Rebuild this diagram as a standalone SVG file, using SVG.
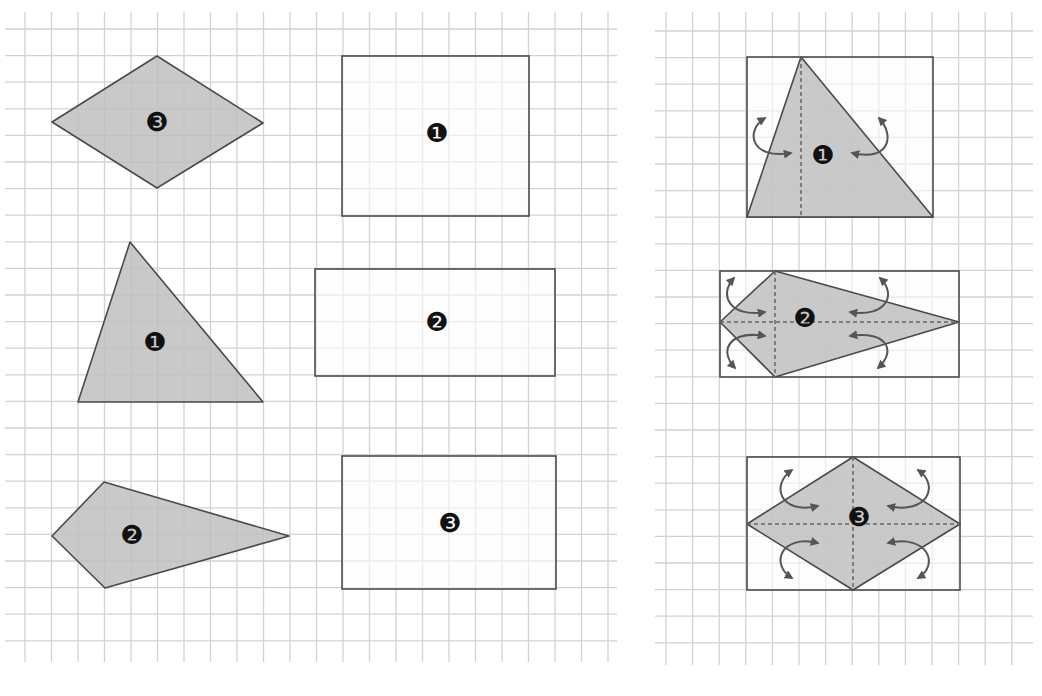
<svg xmlns="http://www.w3.org/2000/svg" width="1042" height="696" viewBox="0 0 1042 696">
<defs>
<style>
.grid line{stroke:#d2d2d2;stroke-width:1.3}
.shape{fill:#c0c0c0;fill-opacity:0.85;stroke:#4a4a4a;stroke-width:1.6;stroke-linejoin:round}
.frame{fill:#fbfbfb;fill-opacity:0.6;stroke:#4a4a4a;stroke-width:1.6}
.fold{stroke:#666;stroke-width:1.5;stroke-dasharray:4 3;fill:none}
.arr{fill:none;stroke:#555;stroke-width:2;marker-start:url(#ah);marker-end:url(#ah)}
.lbl{font-family:"DejaVu Sans",sans-serif;font-size:26px;fill:#111;text-anchor:middle;dominant-baseline:central}
</style>
<marker id="ah" viewBox="0 0 10 10" refX="8" refY="5" markerWidth="4.5" markerHeight="4.5" orient="auto-start-reverse" markerUnits="strokeWidth">
<path d="M0,0 L10,5 L0,10 z" fill="#555"/>
</marker>
</defs>
<rect width="1042" height="696" fill="#ffffff"/>
<g id="grid-left" class="grid">
<line x1="25" y1="12" x2="25" y2="662"/><line x1="51.5" y1="12" x2="51.5" y2="662"/><line x1="78" y1="12" x2="78" y2="662"/><line x1="104.5" y1="12" x2="104.5" y2="662"/><line x1="131" y1="12" x2="131" y2="662"/><line x1="157.5" y1="12" x2="157.5" y2="662"/><line x1="184" y1="12" x2="184" y2="662"/><line x1="210.5" y1="12" x2="210.5" y2="662"/><line x1="237" y1="12" x2="237" y2="662"/><line x1="263.5" y1="12" x2="263.5" y2="662"/><line x1="290" y1="12" x2="290" y2="662"/><line x1="316.5" y1="12" x2="316.5" y2="662"/><line x1="343" y1="12" x2="343" y2="662"/><line x1="369.5" y1="12" x2="369.5" y2="662"/><line x1="396" y1="12" x2="396" y2="662"/><line x1="422.5" y1="12" x2="422.5" y2="662"/><line x1="449" y1="12" x2="449" y2="662"/><line x1="475.5" y1="12" x2="475.5" y2="662"/><line x1="502" y1="12" x2="502" y2="662"/><line x1="528.5" y1="12" x2="528.5" y2="662"/><line x1="555" y1="12" x2="555" y2="662"/><line x1="581.5" y1="12" x2="581.5" y2="662"/><line x1="608" y1="12" x2="608" y2="662"/>
<line x1="5" y1="29" x2="617" y2="29"/><line x1="5" y1="55.6" x2="617" y2="55.6"/><line x1="5" y1="82.2" x2="617" y2="82.2"/><line x1="5" y1="108.8" x2="617" y2="108.8"/><line x1="5" y1="135.4" x2="617" y2="135.4"/><line x1="5" y1="162" x2="617" y2="162"/><line x1="5" y1="188.6" x2="617" y2="188.6"/><line x1="5" y1="215.2" x2="617" y2="215.2"/><line x1="5" y1="241.8" x2="617" y2="241.8"/><line x1="5" y1="268.4" x2="617" y2="268.4"/><line x1="5" y1="295" x2="617" y2="295"/><line x1="5" y1="321.6" x2="617" y2="321.6"/><line x1="5" y1="348.2" x2="617" y2="348.2"/><line x1="5" y1="374.8" x2="617" y2="374.8"/><line x1="5" y1="401.4" x2="617" y2="401.4"/><line x1="5" y1="428" x2="617" y2="428"/><line x1="5" y1="454.6" x2="617" y2="454.6"/><line x1="5" y1="481.2" x2="617" y2="481.2"/><line x1="5" y1="507.8" x2="617" y2="507.8"/><line x1="5" y1="534.4" x2="617" y2="534.4"/><line x1="5" y1="561" x2="617" y2="561"/><line x1="5" y1="587.6" x2="617" y2="587.6"/><line x1="5" y1="614.2" x2="617" y2="614.2"/><line x1="5" y1="640.8" x2="617" y2="640.8"/>
</g>
<g id="grid-right" class="grid">
<line x1="666" y1="12" x2="666" y2="665"/><line x1="692.6" y1="12" x2="692.6" y2="665"/><line x1="719.2" y1="12" x2="719.2" y2="665"/><line x1="745.8" y1="12" x2="745.8" y2="665"/><line x1="772.4" y1="12" x2="772.4" y2="665"/><line x1="799" y1="12" x2="799" y2="665"/><line x1="825.6" y1="12" x2="825.6" y2="665"/><line x1="852.2" y1="12" x2="852.2" y2="665"/><line x1="878.8" y1="12" x2="878.8" y2="665"/><line x1="905.4" y1="12" x2="905.4" y2="665"/><line x1="932" y1="12" x2="932" y2="665"/><line x1="958.6" y1="12" x2="958.6" y2="665"/><line x1="985.2" y1="12" x2="985.2" y2="665"/><line x1="1011.8" y1="12" x2="1011.8" y2="665"/>
<line x1="655" y1="31" x2="1033" y2="31"/><line x1="655" y1="57.6" x2="1033" y2="57.6"/><line x1="655" y1="84.2" x2="1033" y2="84.2"/><line x1="655" y1="110.8" x2="1033" y2="110.8"/><line x1="655" y1="137.4" x2="1033" y2="137.4"/><line x1="655" y1="164" x2="1033" y2="164"/><line x1="655" y1="190.6" x2="1033" y2="190.6"/><line x1="655" y1="217.2" x2="1033" y2="217.2"/><line x1="655" y1="243.8" x2="1033" y2="243.8"/><line x1="655" y1="270.4" x2="1033" y2="270.4"/><line x1="655" y1="297" x2="1033" y2="297"/><line x1="655" y1="323.6" x2="1033" y2="323.6"/><line x1="655" y1="350.2" x2="1033" y2="350.2"/><line x1="655" y1="376.8" x2="1033" y2="376.8"/><line x1="655" y1="403.4" x2="1033" y2="403.4"/><line x1="655" y1="430" x2="1033" y2="430"/><line x1="655" y1="456.6" x2="1033" y2="456.6"/><line x1="655" y1="483.2" x2="1033" y2="483.2"/><line x1="655" y1="509.8" x2="1033" y2="509.8"/><line x1="655" y1="536.4" x2="1033" y2="536.4"/><line x1="655" y1="563" x2="1033" y2="563"/><line x1="655" y1="589.6" x2="1033" y2="589.6"/><line x1="655" y1="616.2" x2="1033" y2="616.2"/><line x1="655" y1="642.8" x2="1033" y2="642.8"/>
</g>
<g id="rhombus-3">
<polygon class="shape" points="52,122 157,56 263,123 157,188"/>
<text class="lbl" x="157" y="122">❸</text>
</g>
<g id="rect-1">
<rect class="frame" x="342" y="56" width="187" height="160"/>
<text class="lbl" x="437" y="133">❶</text>
</g>
<g id="triangle-1">
<polygon class="shape" points="130,242 78,402 263,402"/>
<text class="lbl" x="155" y="342">❶</text>
</g>
<g id="rect-2">
<rect class="frame" x="315" y="269" width="240" height="107"/>
<text class="lbl" x="437" y="322">❷</text>
</g>
<g id="kite-2">
<polygon class="shape" points="52,536 104,482 289,536 105,588"/>
<text class="lbl" x="132" y="535">❷</text>
</g>
<g id="rect-3">
<rect class="frame" x="342" y="456" width="214" height="133"/>
<text class="lbl" x="450" y="523">❸</text>
</g>
<g id="fold-1">
<rect class="frame" x="747" y="57" width="186" height="160"/>
<polygon class="shape" points="801,57 747,217 933,217"/>
<line class="fold" x1="801" y1="57" x2="801" y2="217"/>
<text class="lbl" x="823" y="155">❶</text>
</g>
<g id="fold-2">
<rect class="frame" x="720" y="271" width="239" height="106"/>
<polygon class="shape" points="720,322 775,271 959,322 775,377"/>
<line class="fold" x1="720" y1="322" x2="959" y2="322"/>
<line class="fold" x1="775" y1="271" x2="775" y2="377"/>
<text class="lbl" x="805" y="318">❷</text>
</g>
<g id="fold-3">
<rect class="frame" x="747" y="457" width="213" height="133"/>
<polygon class="shape" points="747,524 853,457 960,524 853,590"/>
<line class="fold" x1="747" y1="524" x2="960" y2="524"/>
<line class="fold" x1="853" y1="457" x2="853" y2="590"/>
<text class="lbl" x="859" y="517">❸</text>
</g>
<g id="connectors">
<path class="arr" d="M765,118 C745,130 750,160 791,153"/>
<path class="arr" d="M879,118 C895,135 890,162 852,153"/>
<path class="arr" d="M734,278 C718,295 730,318 765,312"/>
<path class="arr" d="M765,336 C730,330 718,350 735,368"/>
<path class="arr" d="M880,278 C898,295 885,318 850,312"/>
<path class="arr" d="M850,336 C885,330 898,350 878,368"/>
<path class="arr" d="M792,470 C770,485 780,515 818,506"/>
<path class="arr" d="M818,543 C780,534 770,565 792,578"/>
<path class="arr" d="M918,470 C940,485 928,515 888,506"/>
<path class="arr" d="M888,543 C928,534 940,565 918,578"/>
</g>
</svg>
